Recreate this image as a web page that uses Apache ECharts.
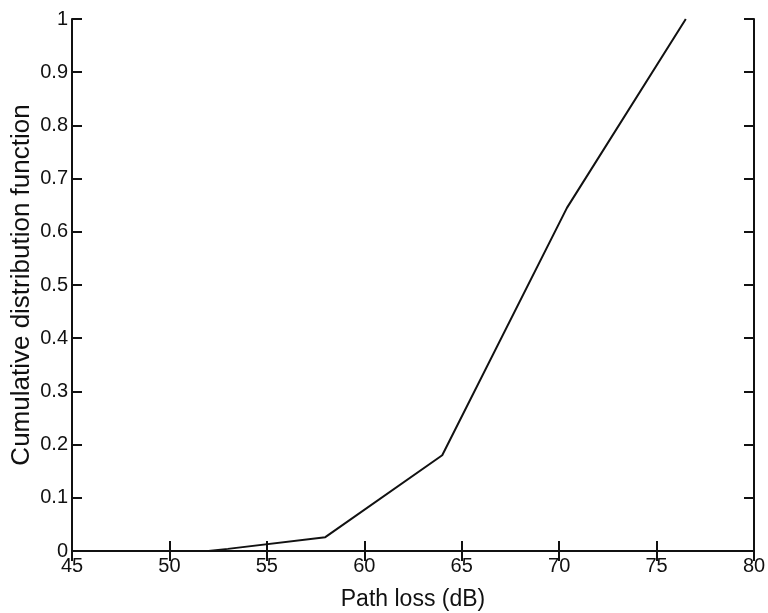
<!DOCTYPE html>
<html><head><meta charset="utf-8">
<script src="https://cdn.jsdelivr.net/npm/echarts@6/dist/echarts.min.js"></script>
<style>html,body{margin:0;padding:0;background:#fff}#c{width:768px;height:613px}</style>
</head><body><div id="c"></div>
<script>
const pathLoss = [52, 53, 58, 64, 70.4, 76.5];
const cdf = [0, 0.004, 0.026, 0.18, 0.645, 1.0];
const xTicks = [45, 50, 55, 60, 65, 70, 75, 80];
const yTicks = [0, 0.1, 0.2, 0.3, 0.4, 0.5, 0.6, 0.7, 0.8, 0.9, 1];

const font = 'Liberation Sans, Arial, sans-serif';
const axisLine = {show: true, lineStyle: {color: '#111', width: 2}};
const tick = {show: true, inside: true, length: 10, lineStyle: {color: '#111', width: 2}};
const chart = echarts.init(document.getElementById('c'));
chart.setOption({
  animation: false,
  backgroundColor: '#fff',
  grid: {left: 72, right: 14, top: 19, bottom: 62, containLabel: false, outerBoundsMode: 'none'},
  xAxis: [{
    type: 'value', min: 45, max: 80, interval: 5, position: 'bottom',
    axisLine, axisTick: tick, splitLine: {show: false},
    axisLabel: {color: '#111', fontSize: 20, fontFamily: font, margin: 5,
      formatter: v => xTicks.includes(v) ? String(v) : ''},
    name: 'Path loss (dB)', nameLocation: 'middle', nameGap: 37, nameMoveOverlap: false,
    nameTextStyle: {color: '#111', fontSize: 23, fontFamily: font}
  }, {
    type: 'value', min: 45, max: 80, interval: 5, position: 'top',
    axisLine, axisTick: tick, axisLabel: {show: false}, splitLine: {show: false}
  }],
  yAxis: [{
    type: 'value', min: 0, max: 1, interval: 0.1, position: 'left',
    axisLine, axisTick: tick, splitLine: {show: false},
    axisLabel: {color: '#111', fontSize: 20, fontFamily: font, margin: 4,
      formatter: v => { const t = yTicks.find(y => Math.abs(y - v) < 1e-9); return t === undefined ? '' : String(t); }},
    name: 'Cumulative distribution function', nameLocation: 'middle', nameGap: 37, nameMoveOverlap: false,
    nameTextStyle: {color: '#111', fontSize: 26, fontFamily: font}
  }, {
    type: 'value', min: 0, max: 1, interval: 0.1, position: 'right',
    axisLine, axisTick: tick, axisLabel: {show: false}, splitLine: {show: false}
  }],
  series: [{
    type: 'line', data: pathLoss.map((x, i) => [x, cdf[i]]),
    showSymbol: false, lineStyle: {color: '#111', width: 2}, clip: true
  }]
});
</script></body></html>
